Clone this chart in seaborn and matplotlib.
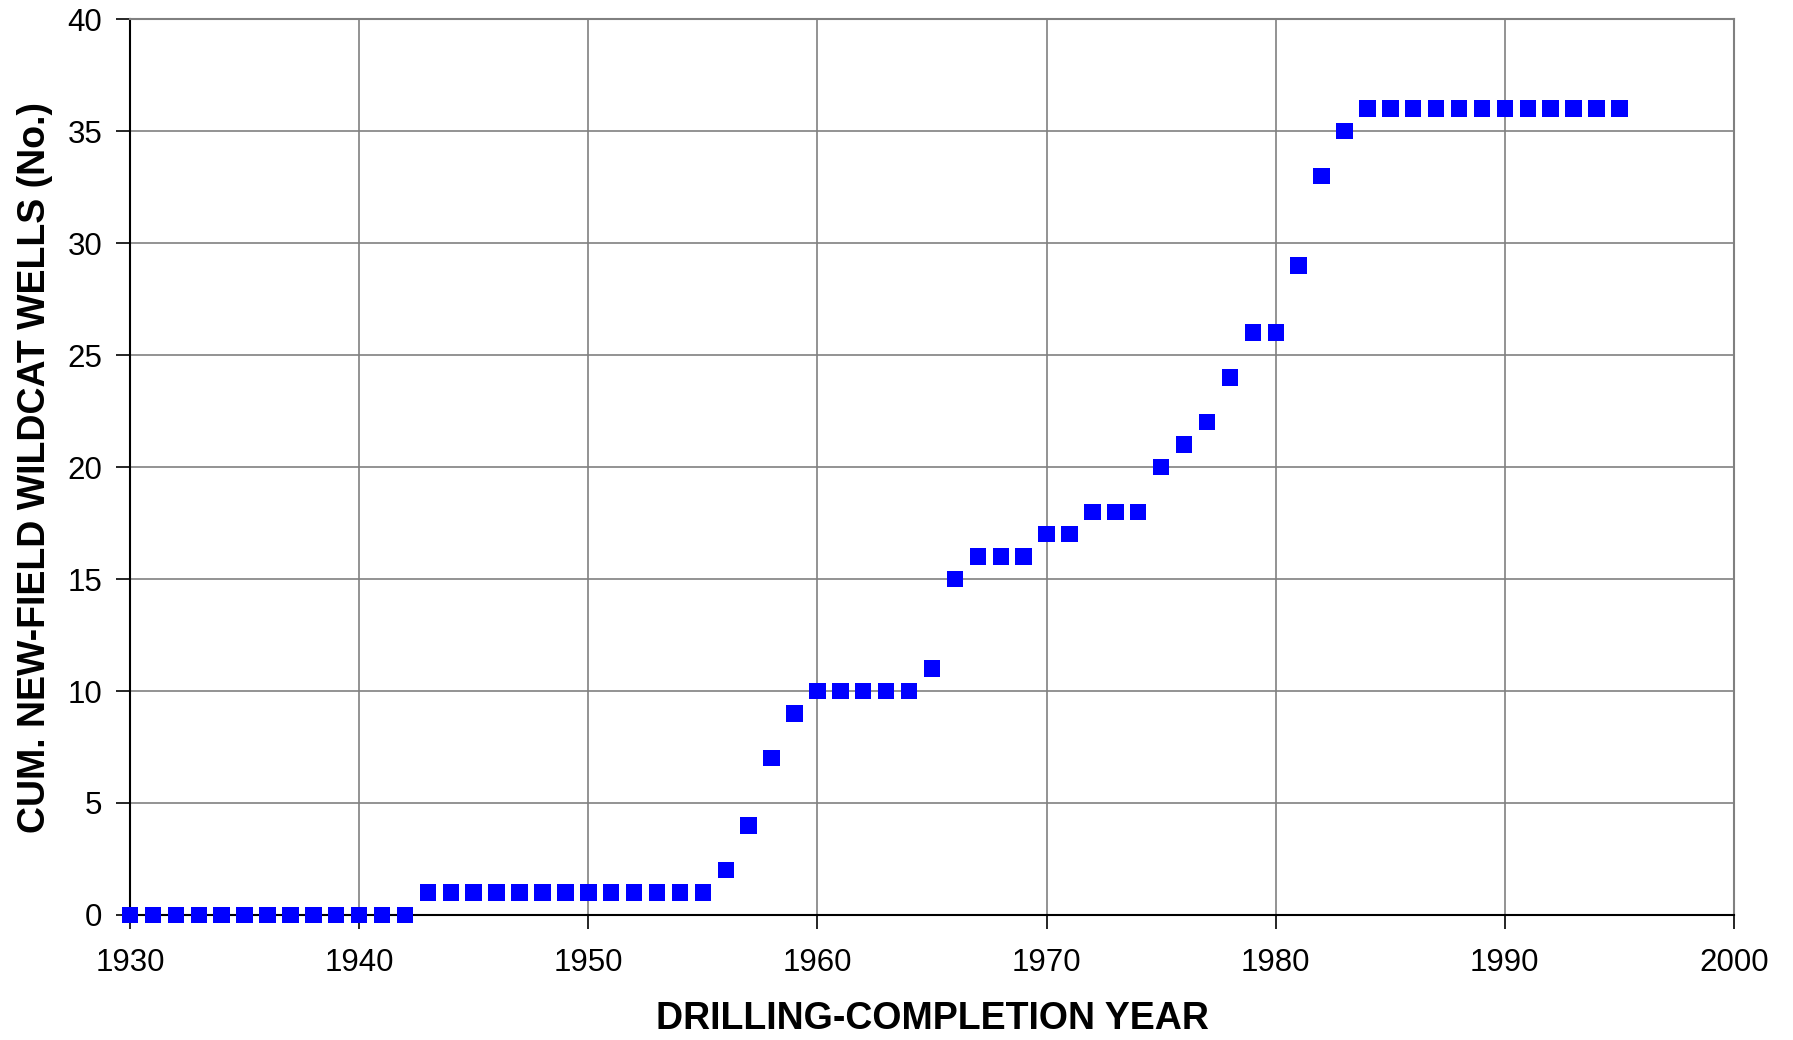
"""
Cumulative new-field wildcat wells by drilling-completion year
"""

import pandas as pd
import matplotlib.pyplot as plt
import seaborn as sns

# data
years = list(range(1930, 1996))
cum_wells = ([0] * 13 + [1] * 13 + [2, 4, 7, 9] + [10] * 5 + [11, 15, 16, 16, 16, 17, 17, 18, 18, 18,
             20, 21, 22, 24, 26, 26, 29, 33, 35] + [36] * 12)

df = pd.DataFrame({"year": years, "wells": cum_wells})

sns.set_style("white")
plt.rcParams["font.family"] = ["Liberation Sans", "DejaVu Sans"]
plt.rcParams["text.color"] = "black"
plt.rcParams["axes.labelcolor"] = "black"
plt.rcParams["xtick.color"] = "black"
plt.rcParams["ytick.color"] = "black"

fig = plt.figure(figsize=(17.93, 10.40), dpi=100)
ax = fig.add_axes([0.0725, 0.1202, 0.8946, 0.8615])

ax.grid(True, color="#808080", linewidth=1.2)
ax.set_axisbelow(True)
sns.scatterplot(data=df, x="year", y="wells", marker="s", s=140, color="#0000ff",
                edgecolor="none", ax=ax, zorder=3, clip_on=False)

ax.set_xlim(1930, 2000)
ax.set_ylim(0, 40)
ax.set_xticks(range(1930, 2001, 10))
ax.set_yticks(range(0, 41, 5))
ax.tick_params(axis="both", direction="out", length=10, width=1.2, labelsize=22.5,
               bottom=True, left=True, color="black", labelcolor="black")
ax.tick_params(axis="x", pad=14)
ax.tick_params(axis="y", pad=10)

for side in ["left", "bottom"]:
    ax.spines[side].set_color("black")
    ax.spines[side].set_linewidth(1.5)
for side in ["right", "top"]:
    ax.spines[side].set_color("#808080")
    ax.spines[side].set_linewidth(1.5)

ax.set_xlabel("DRILLING-COMPLETION YEAR", fontsize=27, fontweight="bold", labelpad=16, color="black")
ax.set_ylabel("CUM. NEW-FIELD WILDCAT WELLS (No.)", fontsize=27, fontweight="bold", labelpad=10,
              color="black")

fig.savefig("out.png", dpi=100)
